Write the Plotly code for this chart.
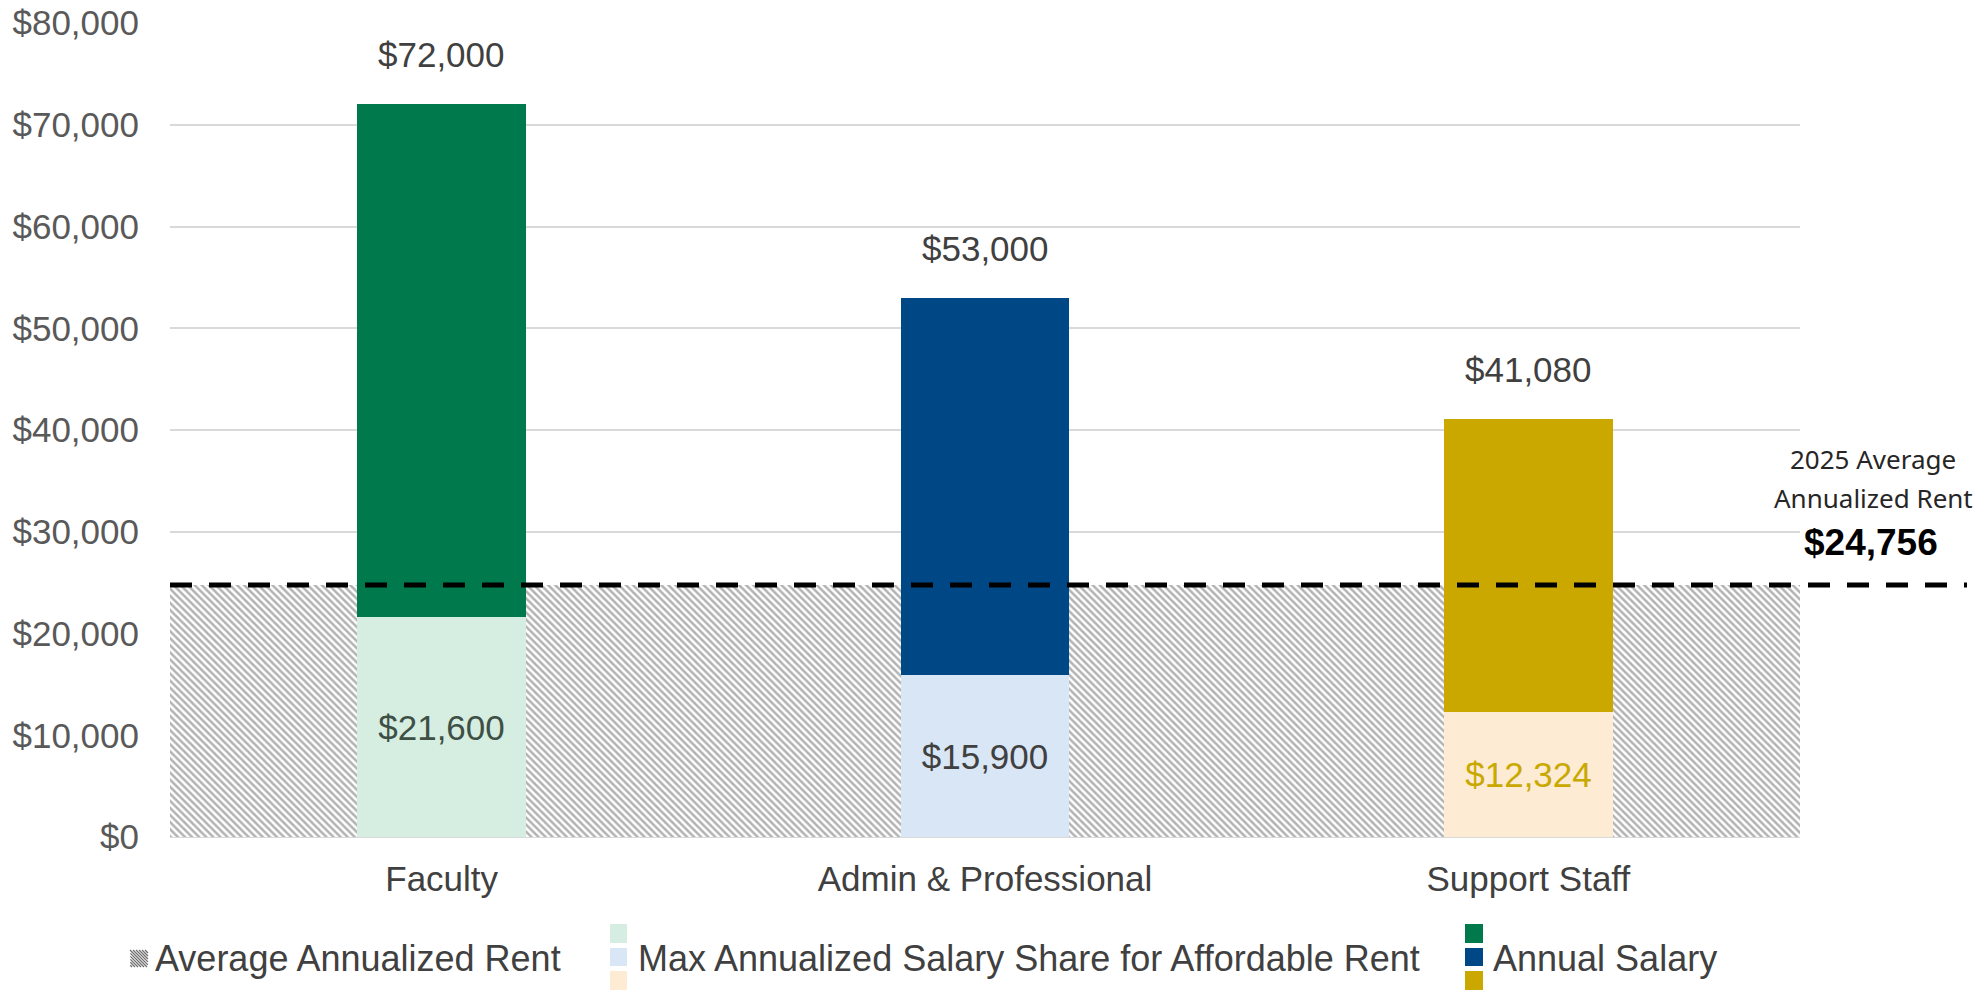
import plotly.graph_objects as go

categories = ["Faculty", "Admin & Professional", "Support Staff"]
annual_salary = [72000, 53000, 41080]
affordable_share = [21600, 15900, 12324]
avg_rent = 24756
y_ticks = [0, 10000, 20000, 30000, 40000, 50000, 60000, 70000, 80000]
legend_labels = ["Average Annualized Rent", "Max Annualized Salary Share for Affordable Rent", "Annual Salary"]

dark_colors = ["#007A4C", "#004785", "#CBA800"]
light_colors = ["#D6EDE1", "#D9E6F5", "#FDEBD4"]
inner_text_colors = ["#3E4F45", "#404040", "#C9A800"]
FONT = "Arial, Liberation Sans, sans-serif"

# plot area in pixels
L, R, T, B = 170, 1800, 23, 837
W, H = R - L, B - T
def px(x):
    return (x - L) / W
def py(y):
    return (B - y) / H

fig = go.Figure()

fig.add_trace(go.Bar(
    x=categories, y=[avg_rent] * len(categories), width=1,
    marker=dict(color="white", line=dict(width=0),
                pattern=dict(shape="\\", fgcolor="#666666", bgcolor="white", size=5, solidity=0.5)),
    hoverinfo="skip", showlegend=False,
))
fig.add_trace(go.Bar(
    x=categories, y=annual_salary, width=0.31,
    marker=dict(color=dark_colors, line=dict(width=0)),
    showlegend=False,
))
fig.add_trace(go.Bar(
    x=categories, y=affordable_share, width=0.31,
    marker=dict(color=light_colors, line=dict(width=0)),
    text=[f"${v:,}" for v in affordable_share], textposition="inside",
    insidetextanchor="middle", textangle=0,
    textfont=dict(size=35, color=inner_text_colors, family=FONT),
    showlegend=False,
))

# top value labels
for c, v in zip(categories, annual_salary):
    fig.add_annotation(x=c, y=v, text=f"${v:,}", showarrow=False, yanchor="bottom",
                       yshift=28, font=dict(size=35, color="#404040", family=FONT))

# dashed average rent line
fig.add_shape(type="line", xref="paper", yref="y", x0=0, x1=px(1967), y0=avg_rent, y1=avg_rent,
              line=dict(color="black", width=5, dash="22px,17px"), layer="above")

fig.add_annotation(xref="paper", yref="paper", x=px(1873), y=py(459), text="2025 Average",
                   xanchor="center", yanchor="middle",
                   showarrow=False, font=dict(size=26, color="#262626", family="Noto Sans"))
fig.add_annotation(xref="paper", yref="paper", x=px(1873), y=py(498), text="Annualized Rent",
                   xanchor="center", yanchor="middle",
                   showarrow=False, font=dict(size=26, color="#262626", family="Noto Sans"))
fig.add_annotation(xref="paper", yref="paper", x=px(1871), y=py(542), text=f"<b>${avg_rent:,}</b>",
                   xanchor="center", yanchor="middle",
                   showarrow=False, font=dict(size=37, color="black", family=FONT))

# custom legend
def rect(x0, x1, y0, y1, color):
    fig.add_shape(type="rect", xref="paper", yref="paper", x0=px(x0), x1=px(x1), y0=py(y1), y1=py(y0),
                  fillcolor=color, line=dict(width=0), layer="above")

swatch_rows = [(924, 943), (948, 966), (971, 990)]
for (y0, y1), col in zip(swatch_rows, light_colors):
    rect(610, 627, y0, y1, col)
for (y0, y1), col in zip(swatch_rows, dark_colors):
    rect(1465, 1483, y0, y1, col)

# hatch icon
hx0, hx1, hy0, hy1 = 130, 148, 950, 967
path = ""
for k in range(-5, 7):
    xa = hx0 + k * 3.0
    xb = xa + (hy1 - hy0)
    pts = []
    for t in [i / 40 for i in range(41)]:
        x = xa + (xb - xa) * t
        y = hy0 + (hy1 - hy0) * t
        if hx0 <= x <= hx1:
            pts.append((x, y))
    if len(pts) >= 2:
        path += f"M{px(pts[0][0])},{py(pts[0][1])} L{px(pts[-1][0])},{py(pts[-1][1])} "
fig.add_shape(type="path", xref="paper", yref="paper", path=path,
              line=dict(color="#6e6e6e", width=1.3), layer="above")

for xpos, lab in zip([153, 636, 1491], legend_labels):
    fig.add_annotation(xref="paper", yref="paper", x=px(xpos), y=py(958), text=lab,
                       xanchor="left", yanchor="middle", showarrow=False,
                       font=dict(size=36, color="#404040", family=FONT))

fig.update_layout(
    width=1977, height=990, barmode="overlay", bargap=0,
    margin=dict(l=L, r=1977 - R, t=T, b=990 - B),
    plot_bgcolor="white", paper_bgcolor="white",
    font=dict(family=FONT, size=35, color="#595959"),
    showlegend=False,
)
fig.update_xaxes(range=[-0.5, 2.5], showgrid=False, showline=False, ticks="", automargin=False,
                 tickfont=dict(size=35, color="#404040"), ticklabelstandoff=18)
fig.update_yaxes(range=[0, 80000], tickvals=y_ticks, ticktext=[f"${v:,}" for v in y_ticks],
                 showgrid=True, gridcolor="#d9d9d9", gridwidth=2, zeroline=True, automargin=False,
                 zerolinecolor="#d9d9d9", zerolinewidth=2, showline=False, ticks="",
                 tickfont=dict(size=35, color="#595959"), ticklabelstandoff=30)

fig.write_html("out.html")
